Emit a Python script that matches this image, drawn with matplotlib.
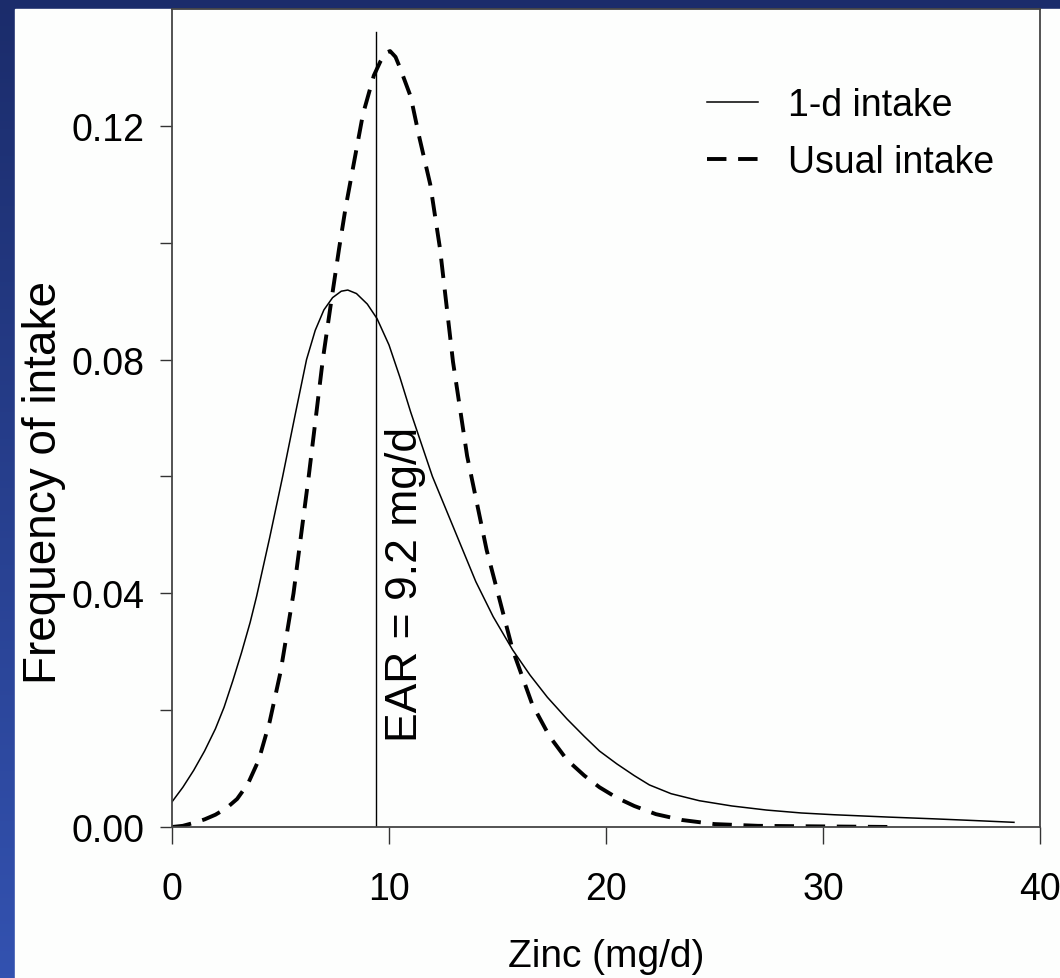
import numpy as np
import matplotlib
matplotlib.use("Agg")
import matplotlib.pyplot as plt
from matplotlib.patches import Rectangle

# 1-d intake (solid)
one_day_x = [0, 0.5, 1.0, 1.5, 2.0, 2.4, 2.8, 3.2, 3.6, 3.9, 4.5, 5.1, 5.7, 6.2, 6.6,
             7.0, 7.4, 7.8, 8.1, 8.5, 9.0, 9.45, 10.0, 10.5, 11.0, 11.5, 12.0, 12.5,
             13.0, 13.5, 14.0, 14.8, 15.7, 16.5, 17.3, 18.2, 19.0, 19.7, 20.5, 21.3,
             22.0, 23.0, 24.3, 25.8, 27.4, 29.0, 30.5, 33.0, 35.1, 37.0, 38.8]
one_day_y = [0.0043, 0.0068, 0.0097, 0.013, 0.0168, 0.0205, 0.025, 0.0298, 0.035,
             0.0395, 0.0495, 0.060, 0.071, 0.080, 0.085, 0.0885, 0.0906, 0.0917,
             0.0919, 0.0913, 0.0895, 0.0870, 0.0825, 0.077, 0.071, 0.0655, 0.060,
             0.0555, 0.051, 0.0465, 0.042, 0.036, 0.0303, 0.026, 0.0222, 0.0185,
             0.0155, 0.013, 0.0108, 0.0088, 0.0072, 0.0057, 0.0045, 0.0036, 0.0029,
             0.0024, 0.0021, 0.0017, 0.0014, 0.0011, 0.0008]

# usual intake (dashed)
usual_x = [0, 0.5, 1.0, 1.5, 2.0, 2.5, 3.0, 3.5, 4.0, 4.5, 5.0, 5.6, 6.3, 6.95, 7.3,
           7.7, 8.0, 8.35, 8.8, 9.3, 9.6, 9.85, 10.05, 10.3, 10.5, 10.75, 11.0, 11.4,
           11.9, 12.35, 12.95, 13.6, 14.5, 15.7, 16.6, 17.4, 18.2, 19.0, 19.7, 20.5,
           21.3, 22.3, 23.5, 25.0, 27.0, 30.0, 33.3]
usual_y = [0.0, 0.0002, 0.0007, 0.0013, 0.0021, 0.0032, 0.0048, 0.0074, 0.0115, 0.018,
           0.0265, 0.040, 0.060, 0.080, 0.089, 0.099, 0.106, 0.113, 0.122, 0.1286,
           0.131, 0.1325, 0.1328, 0.1318, 0.130, 0.1275, 0.125, 0.118, 0.110, 0.099,
           0.0796, 0.0635, 0.0474, 0.0303, 0.021, 0.0155, 0.0115, 0.0088, 0.0068,
           0.005, 0.0036, 0.0022, 0.0012, 0.0005, 0.0002, 0.0001, 0.0]

ear_x = 9.4
x_ticks = [0, 10, 20, 30, 40]
y_ticks = [0.0, 0.02, 0.04, 0.06, 0.08, 0.10, 0.12]
y_labels = ["0.00", "", "0.04", "", "0.08", "", "0.12"]

W, H = 1060, 979
fig = plt.figure(figsize=(W / 100, H / 100), dpi=100)

# blue gradient background + white panel
bg = fig.add_axes([0, 0, 1, 1])
grad = np.linspace(0, 1, 256).reshape(-1, 1)
top = np.array([0x1b, 0x2c, 0x6b]) / 255
bot = np.array([0x33, 0x52, 0xb0]) / 255
img = top + (bot - top) * grad[:, :, None]
bg.imshow(img, aspect="auto", extent=[0, 1, 0, 1])
bg.add_patch(Rectangle((15 / W, 0), 1, 1 - 10 / H, color="#fdfefd", zorder=2))
bg.set_xlim(0, 1)
bg.set_ylim(0, 1)
bg.axis("off")

font = ["Liberation Sans", "DejaVu Sans"]
fs = 27

ax = fig.add_axes([172 / W, 1 - 828 / H, (1040 - 172) / W, (828 - 10) / H])
ax.set_facecolor("none")
ax.plot(one_day_x, one_day_y, color="black", lw=1.1, label="1-d intake")
ax.plot(usual_x, usual_y, color="black", lw=2.8, dashes=(5, 3), label="Usual intake")
ax.plot([ear_x, ear_x], [0, 0.136], color="black", lw=1.0)

ax.set_xlim(0, 40)
ax.set_ylim(0, 0.14)
ax.set_xticks(x_ticks)
ax.set_xticklabels([str(t) for t in x_ticks], family=font, fontsize=fs)
ax.set_yticks(y_ticks)
ax.set_yticklabels(y_labels, family=font, fontsize=fs)
ax.tick_params(axis="x", length=12, width=1.0, pad=20, color="#333333")
ax.tick_params(axis="y", length=9, width=1.0, pad=11, color="#333333")
for s in ax.spines.values():
    s.set_color("#444444")
    s.set_linewidth(1.3)

ax.text(10.75, 0.0416, "EAR = 9.2 mg/d", rotation=90, ha="center", va="center",
        family=font, fontsize=32)

ax.legend(loc="upper left", bbox_to_anchor=(0.616, 0.9046), frameon=False,
          prop={"family": font, "size": fs}, handlelength=1.36,
          handletextpad=0.8, labelspacing=0.55, borderpad=0, borderaxespad=0)

fig.text(606 / W, 12 / H, "Zinc (mg/d)", ha="center", va="baseline",
         family=font, fontsize=28)
fig.text(44 / W, 1 - 483 / H, "Frequency of intake", rotation=90, ha="center",
         va="center", family=font, fontsize=33)

fig.savefig("out.png", dpi=100)
